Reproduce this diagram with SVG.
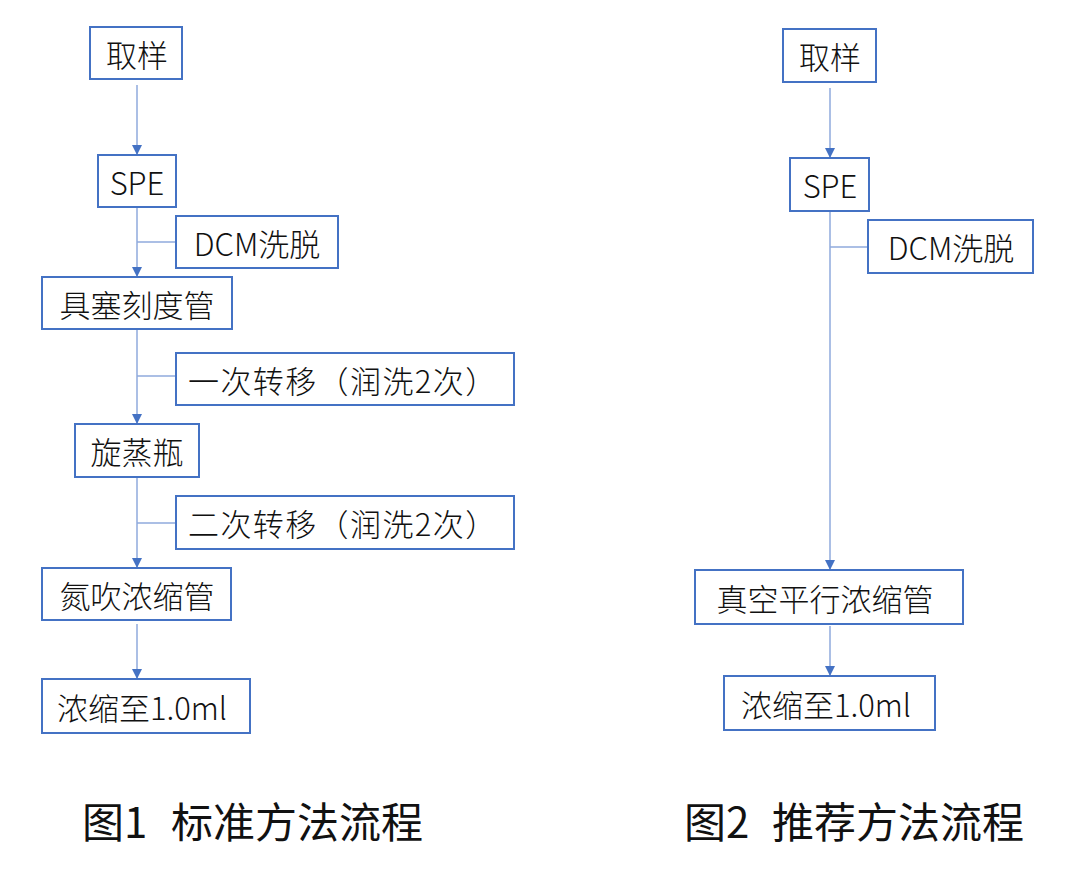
<svg xmlns="http://www.w3.org/2000/svg" width="1080" height="877" viewBox="0 0 1080 877">
<style>
.box{fill:#fff;stroke:#4472C4;stroke-width:2}
.t{font-family:"Noto Sans CJK SC","Microsoft YaHei",sans-serif;font-size:31px;font-weight:300;fill:#111;text-anchor:middle;dominant-baseline:central}
.ts{font-family:"Noto Sans CJK SC","Microsoft YaHei",sans-serif;font-size:31px;font-weight:300;fill:#111;dominant-baseline:central;letter-spacing:1.4px}
.cap{font-family:"Noto Sans CJK SC","Microsoft YaHei",sans-serif;font-size:42px;font-weight:400;fill:#111}
.ln{stroke:#8FAADC;stroke-width:1.5;fill:none}
.arr{stroke:#8FAADC;stroke-width:1.5;fill:none;marker-end:url(#ah)}
</style>
<defs>
<marker id="ah" viewBox="0 0 10 10" refX="10" refY="5" markerUnits="userSpaceOnUse" markerWidth="10" markerHeight="10" orient="auto">
<path d="M0,0 L10,5 L0,10 z" fill="#4472C4"/>
</marker>
</defs>
<rect width="1080" height="877" fill="#fff"/>
<g id="connectors">
<line class="arr" x1="137" y1="85" x2="137" y2="155"/>
<line class="arr" x1="137" y1="207" x2="137" y2="277"/>
<line class="ln" x1="137" y1="242" x2="176" y2="242"/>
<line class="arr" x1="137" y1="329" x2="137" y2="424"/>
<line class="ln" x1="137" y1="376" x2="176" y2="376"/>
<line class="arr" x1="137" y1="477" x2="137" y2="568"/>
<line class="ln" x1="137" y1="523" x2="176" y2="523"/>
<line class="arr" x1="137" y1="624" x2="137" y2="679"/>
<line class="arr" x1="830" y1="88" x2="830" y2="158"/>
<line class="arr" x1="830" y1="211" x2="830" y2="570"/>
<line class="ln" x1="830" y1="247" x2="868" y2="247"/>
<line class="arr" x1="830" y1="626" x2="830" y2="676"/>
</g>
<g id="n1"><rect class="box" x="90" y="27" width="92" height="52"/><text class="t" x="137" y="53">取样</text></g>
<g id="n2"><rect class="box" x="98" y="155" width="78" height="52"/><text class="t" x="137" y="181">SPE</text></g>
<g id="n3"><rect class="box" x="176" y="216" width="162" height="52"/><text class="t" x="257" y="242">DCM洗脱</text></g>
<g id="n4"><rect class="box" x="42" y="277" width="190" height="52"/><text class="t" x="137" y="303">具塞刻度管</text></g>
<g id="n5"><rect class="box" x="176" y="353" width="338" height="52"/><text class="ts" x="188" y="379">一次转移（润洗2次）</text></g>
<g id="n6"><rect class="box" x="75" y="424" width="124" height="53"/><text class="t" x="137" y="450">旋蒸瓶</text></g>
<g id="n7"><rect class="box" x="176" y="496" width="338" height="53"/><text class="ts" x="188" y="522">二次转移（润洗2次）</text></g>
<g id="n8"><rect class="box" x="42" y="568" width="189" height="52"/><text class="t" x="137" y="594">氮吹浓缩管</text></g>
<g id="n9"><rect class="box" x="42" y="679" width="208" height="54"/><text class="t" x="142" y="706">浓缩至1.0ml</text></g>
<g id="m1"><rect class="box" x="783" y="29" width="93" height="53"/><text class="t" x="830" y="55">取样</text></g>
<g id="m2"><rect class="box" x="790" y="158" width="79" height="53"/><text class="t" x="830" y="184">SPE</text></g>
<g id="m3"><rect class="box" x="868" y="220" width="165" height="53"/><text class="t" x="951" y="246">DCM洗脱</text></g>
<g id="m4"><rect class="box" x="695" y="570" width="268" height="54"/><text class="t" x="825" y="597">真空平行浓缩管</text></g>
<g id="m5"><rect class="box" x="724" y="676" width="211" height="54"/><text class="t" x="826" y="703">浓缩至1.0ml</text></g>
<g id="captions">
<text class="cap" x="82" y="838">图1</text>
<text class="cap" x="171" y="838">标准方法流程</text>
<text class="cap" x="684" y="838">图2</text>
<text class="cap" x="772" y="838">推荐方法流程</text>
</g>
</svg>
